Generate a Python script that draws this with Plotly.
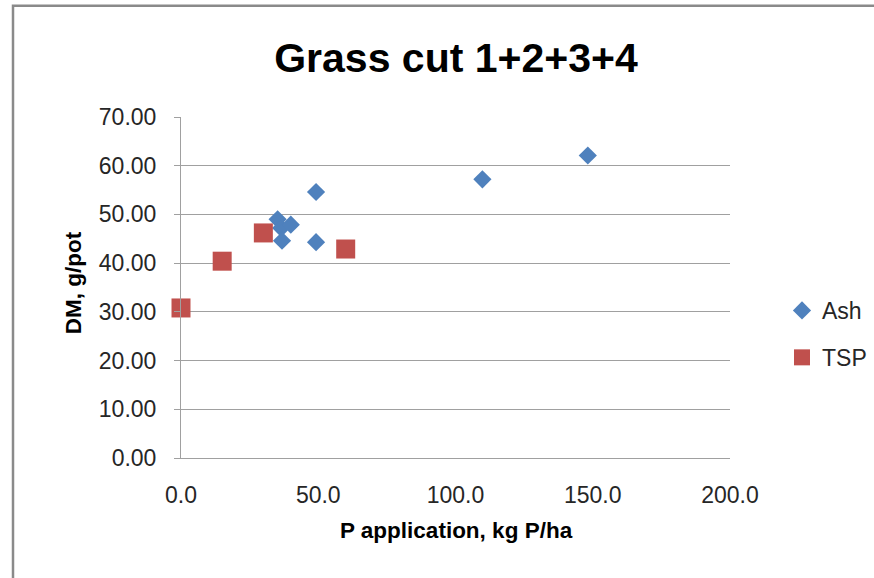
import plotly.graph_objects as go

# Data
ash_x = [35.2, 36.5, 40.0, 36.8, 49.2, 49.2, 109.8, 148.2]
ash_y = [49.0, 47.2, 47.9, 44.6, 54.6, 44.3, 57.2, 62.1]
tsp_x = [0.0, 15.0, 30.0, 60.0]
tsp_y = [30.8, 40.4, 46.2, 42.9]

title_text = "Grass cut 1+2+3+4"
x_title = "P application, kg P/ha"
y_title = "DM, g/pot"

W, H = 874, 578
L, R, T, B = 181, 144, 116.5, 120
pw, ph = W - L - R, H - T - B

FONT = "Liberation Sans, Arial, sans-serif"
TXT = "#262626"
GRID = "#a0a0a0"

fig = go.Figure()
fig.add_trace(go.Scatter(
    x=ash_x, y=ash_y, mode="markers", name="Ash", legendgroup="a",
    marker=dict(symbol="diamond", size=14, color="#4F81BD", line=dict(width=0)),
    cliponaxis=False,
))
fig.add_trace(go.Scatter(
    x=tsp_x, y=tsp_y, mode="markers", name="TSP", legendgroup="b",
    marker=dict(symbol="square", size=19, color="#C0504D", line=dict(width=0)),
    cliponaxis=False,
))


def px_to_paper_x(px):
    return (px - L) / pw


def px_to_paper_y(py):
    return (H - B - py) / ph


fig.update_layout(
    width=W, height=H,
    margin=dict(l=L, r=R, t=T, b=B, pad=0),
    paper_bgcolor="white", plot_bgcolor="white",
    font=dict(family=FONT, size=23, color=TXT),
    showlegend=True,
    legend=dict(
        xref="container", yref="container",
        x=782 / W, xanchor="left",
        y=1 - 289 / H, yanchor="top",
        font=dict(family=FONT, size=23, color=TXT),
        tracegroupgap=14,
        bgcolor="rgba(0,0,0,0)",
        itemwidth=30,
    ),
    title=dict(
        text="<b>" + title_text + "</b>",
        font=dict(family=FONT, size=41, color="black"),
        xref="container", yref="container",
        x=456 / W, xanchor="center",
        y=1 - 58 / H, yanchor="middle",
    ),
    xaxis=dict(
        range=[0, 200], dtick=50, tick0=0, tickformat=".1f",
        showgrid=False, zeroline=False,
        showline=True, linecolor=GRID, linewidth=1,
        ticks="", ticklabelstandoff=16,
        tickfont=dict(family=FONT, size=23, color=TXT),
        fixedrange=True,
    ),
    yaxis=dict(
        range=[0, 70], dtick=10, tick0=0, tickformat=".2f",
        showgrid=True, gridcolor=GRID, gridwidth=1,
        zeroline=False,
        showline=True, linecolor=GRID, linewidth=1,
        ticks="outside", ticklen=6, tickcolor=GRID,
        ticklabelstandoff=13,
        tickfont=dict(family=FONT, size=23, color=TXT),
        fixedrange=True,
    ),
    annotations=[
        dict(text="<b>" + x_title + "</b>", xref="paper", yref="paper",
             x=px_to_paper_x(456), y=px_to_paper_y(531),
             xanchor="center", yanchor="middle", showarrow=False,
             font=dict(family=FONT, size=22.5, color="black")),
        dict(text="<b>" + y_title + "</b>", xref="paper", yref="paper",
             x=px_to_paper_x(73), y=px_to_paper_y(283),
             xanchor="center", yanchor="middle", showarrow=False, textangle=-90,
             font=dict(family=FONT, size=22.5, color="black")),
    ],
    shapes=[
        dict(type="rect", xref="paper", yref="paper", layer="below",
             x0=px_to_paper_x(13), x1=px_to_paper_x(890),
             y0=px_to_paper_y(600), y1=px_to_paper_y(5),
             line=dict(color="#8a8a8a", width=2.5), fillcolor="rgba(0,0,0,0)"),
    ],
)

fig.write_html("out.html")
